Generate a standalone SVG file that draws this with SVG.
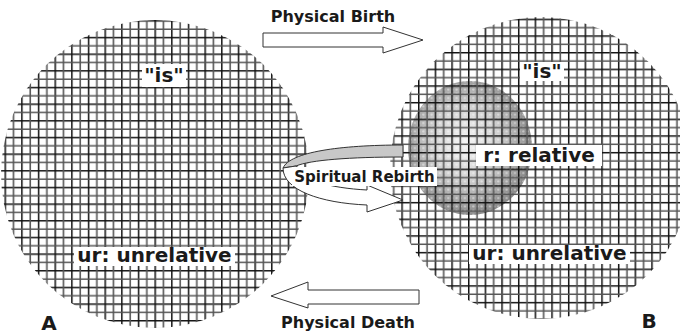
<svg xmlns="http://www.w3.org/2000/svg" width="680" height="334" viewBox="0 0 680 334">
<style>
.lbl{font-family:"DejaVu Sans",Verdana,sans-serif;font-weight:bold;fill:#1a1a1a;text-anchor:middle}
.box{fill:#fff}
.arrow{fill:#fff;stroke:#333;stroke-width:1}
</style>
<defs>
<pattern id="gridA" patternUnits="userSpaceOnUse" x="4.5" y="3.5" width="16.66" height="16.66">
<path d="M0.75 0V16.66M0 0.75H16.66" stroke="#111" stroke-width="1.5"/>
<path d="M9.08 0V16.66M0 9.08H16.66" stroke="#555" stroke-width="1.6"/>
</pattern>
<pattern id="gridB" patternUnits="userSpaceOnUse" x="1.5" y="2" width="16.66" height="16.66">
<path d="M0.75 0V16.66M0 0.75H16.66" stroke="#111" stroke-width="1.5"/>
<path d="M9.08 0V16.66M0 9.08H16.66" stroke="#555" stroke-width="1.6"/>
</pattern>
<radialGradient id="sph" cx="0.46" cy="0.46" r="0.56">
<stop offset="0" stop-color="#f6f6f6"/>
<stop offset="0.45" stop-color="#d6d6d6"/>
<stop offset="0.8" stop-color="#a2a2a2"/>
<stop offset="1" stop-color="#858585"/>
</radialGradient>
<pattern id="dots" patternUnits="userSpaceOnUse" width="4.17" height="4.17">
<circle cx="2.08" cy="2.08" r="1.1" fill="#fff" opacity="0.45"/>
</pattern>
</defs>
<rect width="680" height="334" fill="#fff"/>

<g id="circleA">
<circle cx="155" cy="174" r="154" fill="url(#gridA)"/>
<rect class="box" x="142" y="64" width="44" height="23"/>
<text class="lbl" x="164" y="82" font-size="20">"is"</text>
<rect class="box" x="74" y="247" width="161" height="19"/>
<text class="lbl" x="154.5" y="262" font-size="20">ur: unrelative</text>
<text class="lbl" x="49" y="330" font-size="20">A</text>
</g>

<g id="circleB">
<ellipse cx="470" cy="148" rx="62" ry="67" fill="url(#sph)"/>
<ellipse cx="470" cy="148" rx="62" ry="67" fill="url(#dots)"/>
<circle cx="541" cy="168" r="151" fill="url(#gridB)"/>
<rect class="box" x="520" y="62" width="44" height="19"/>
<text class="lbl" x="542" y="78" font-size="20">"is"</text>
<rect class="box" x="469" y="245" width="161" height="19"/>
<text class="lbl" x="549.5" y="260" font-size="20">ur: unrelative</text>
<text class="lbl" x="649" y="328" font-size="20">B</text>
</g>

<g id="connectors">
<g id="birth">
<polygon class="arrow" points="263,33 383,33 383,27 423,40 383,53 383,47 263,47"/>
<text class="lbl" x="333" y="22" font-size="16">Physical Birth</text>
</g>
<g id="death">
<polygon class="arrow" points="419,290 308,290 308,282 271,296 308,308 308,304 419,304"/>
<text class="lbl" x="348" y="328" font-size="16">Physical Death</text>
</g>
<g id="rebirth">
<path d="M403,145 C340,145 290,152 283,168 L296,166 C310,160 350,157 403,157 Z" fill="#c8c8c8" stroke="#333" stroke-width="1"/>
<path class="arrow" d="M283,168 C283,190 320,203 367,205 L367,212 L403,200 L367,185 L367,190 C330,188 300,180 296,166 Z"/>
<rect class="box" x="292" y="167" width="145" height="19"/>
<text class="lbl" x="364.5" y="182" font-size="15">Spiritual Rebirth</text>
</g>
</g>

<g id="sphereLabel">
<rect class="box" x="476" y="145" width="126" height="21"/>
<text class="lbl" x="539" y="162" font-size="20">r: relative</text>
</g>
</svg>
